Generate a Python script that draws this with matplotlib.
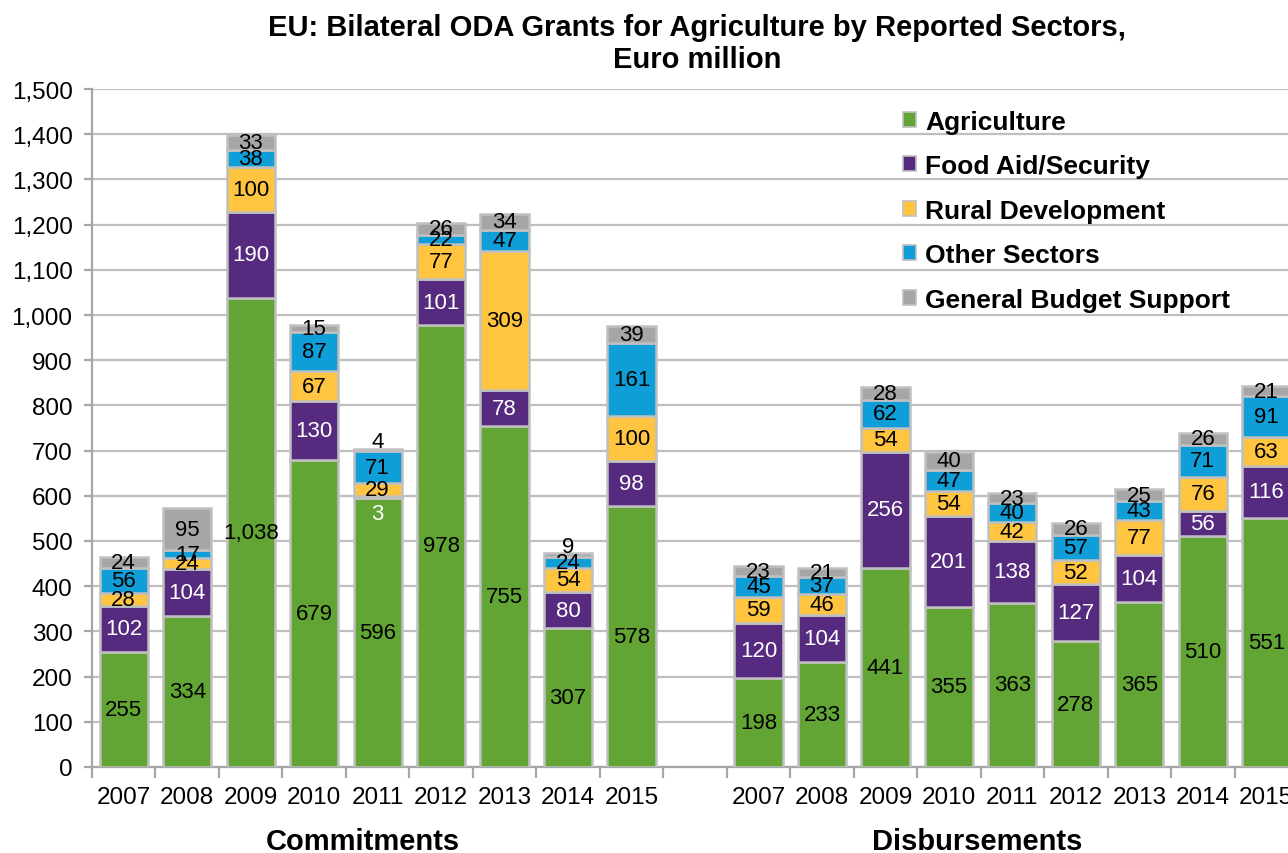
import matplotlib
matplotlib.use("Agg")
import matplotlib.pyplot as plt
from matplotlib.patches import Patch
from matplotlib.ticker import FuncFormatter, FixedLocator
import numpy as np

plt.rcParams['font.family'] = ['Liberation Sans', 'DejaVu Sans']

years = ['2007', '2008', '2009', '2010', '2011', '2012', '2013', '2014', '2015']
groups = ['Commitments', 'Disbursements']
sectors = ['Agriculture', 'Food Aid/Security', 'Rural Development',
           'Other Sectors', 'General Budget Support']

# commitments
com_agri = [255, 334, 1038, 679, 596, 978, 755, 307, 578]
com_food = [102, 104, 190, 130, 3, 101, 78, 80, 98]
com_rural = [28, 24, 100, 67, 29, 77, 309, 54, 100]
com_other = [56, 17, 38, 87, 71, 22, 47, 24, 161]
com_gbs = [24, 95, 33, 15, 4, 26, 34, 9, 39]

# disbursements
dis_agri = [198, 233, 441, 355, 363, 278, 365, 510, 551]
dis_food = [120, 104, 256, 201, 138, 127, 104, 56, 116]
dis_rural = [59, 46, 54, 54, 42, 52, 77, 76, 63]
dis_other = [45, 37, 62, 47, 40, 57, 43, 71, 91]
dis_gbs = [23, 21, 28, 40, 23, 26, 25, 26, 21]

colors = ['#62A534', '#562A7E', '#FFC540', '#0F9ED8', '#A6A6A6']
label_colors = ['black', 'white', 'black', 'black', 'black']
edge = '#C0C0C0'

fig = plt.figure(figsize=(12.88, 8.54), dpi=100)
ax = fig.add_axes([92 / 1288, 86 / 854, 1206 / 1288, 678 / 854])

n = len(years)
x_com = np.arange(n)
x_dis = np.arange(n) + n + 1
x_all = np.concatenate([x_com, x_dis])

series = [np.array(com_agri + dis_agri), np.array(com_food + dis_food),
          np.array(com_rural + dis_rural), np.array(com_other + dis_other),
          np.array(com_gbs + dis_gbs)]

bottom = np.zeros(len(x_all))
for k, (vals, col, lc) in enumerate(zip(series, colors, label_colors)):
    ax.bar(x_all, vals, bottom=bottom, width=0.76, color=col,
           edgecolor=edge, linewidth=1.8, zorder=3)
    is_top = k == len(series) - 1
    for xi, b, v in zip(x_all, bottom, vals):
        # tiny segments: excel pushes the label off the segment
        dy = 0
        if v < 10:
            dy = 6 if is_top else -12
        ax.annotate(f'{v:,}', (xi, b + v / 2), xytext=(0, dy), textcoords='offset points',
                    ha='center', va='center', fontsize=16, color=lc, zorder=4)
    bottom = bottom + vals

ax.set_xlim(-0.5, x_dis[-1] + 0.5)
ax.set_ylim(0, 1500)
ax.set_yticks(np.arange(0, 1501, 100))
ax.yaxis.set_major_formatter(FuncFormatter(lambda v, p: f'{int(v):,}'))
ax.grid(axis='y', color='#BFBFBF', linewidth=1.6, zorder=0)
ax.set_axisbelow(True)

ax.set_xticks(x_all)
ax.set_xticklabels(years + years)
ax.xaxis.set_minor_locator(FixedLocator(np.arange(-0.5, x_dis[-1] + 1, 1)))
ax.tick_params(axis='x', which='major', length=0, pad=14, labelsize=17.5)
ax.tick_params(axis='x', which='minor', length=8, width=1.6, color='#A6A6A6')
ax.tick_params(axis='y', length=6, width=1.6, color='#A6A6A6', labelsize=17.5, pad=8)

for s in ['top', 'right']:
    ax.spines[s].set_visible(False)
for s in ['left', 'bottom']:
    ax.spines[s].set_color('#A6A6A6')
    ax.spines[s].set_linewidth(1.6)

fig.text(0.541, 1 - 44 / 854, 'EU: Bilateral ODA Grants for Agriculture by Reported Sectors,\nEuro million',
         ha='center', va='center', fontsize=21, fontweight='bold', linespacing=1.15)

fig.text(363 / 1288, 1 - 842 / 854, groups[0], ha='center', va='center',
         fontsize=21, fontweight='bold')
fig.text(977 / 1288, 1 - 842 / 854, groups[1], ha='center', va='center',
         fontsize=21, fontweight='bold')

handles = [Patch(facecolor=c, edgecolor=edge, linewidth=1.2) for c in colors]
fig.legend(handles, sectors, loc='upper left', bbox_to_anchor=(892 / 1288, 1 - 100 / 854),
           frameon=False, prop={'size': 19, 'weight': 'bold'},
           handlelength=0.5, handleheight=0.5, handletextpad=0.35,
           labelspacing=0.78, borderaxespad=0)

fig.savefig('out.png', dpi=100)
